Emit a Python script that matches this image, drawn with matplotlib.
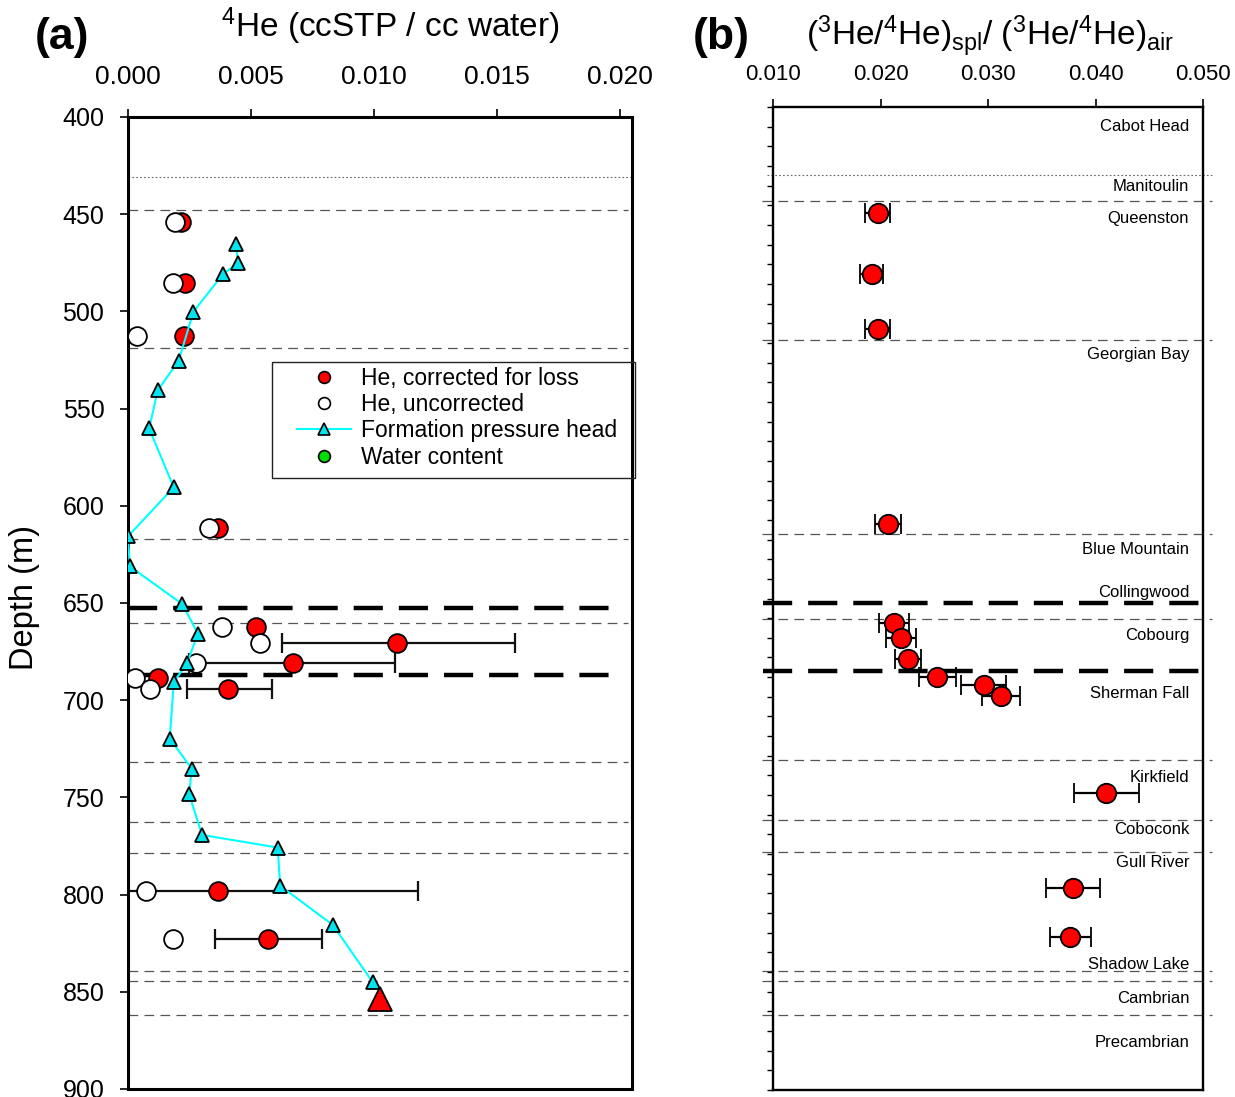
import matplotlib
matplotlib.use('Agg')
import matplotlib.pyplot as plt
import numpy as np
from matplotlib.patches import Rectangle
from matplotlib.lines import Line2D
from matplotlib.ticker import MultipleLocator, FormatStrFormatter, NullFormatter

plt.rcParams['font.family'] = ['Liberation Sans', 'DejaVu Sans']
plt.rcParams['mathtext.fontset'] = 'custom'
plt.rcParams['mathtext.rm'] = 'Liberation Sans'
plt.rcParams['mathtext.it'] = 'Liberation Sans:italic'
plt.rcParams['mathtext.bf'] = 'Liberation Sans:bold'
plt.rcParams['lines.scale_dashes'] = False

# ---------------- data ----------------
# Panel (a): 4He concentration
he_depth = [453.8, 485.5, 512.4, 611.4, 662.4, 670.5, 681.1, 688.8, 694.4, 798.1, 822.9]
he_corrected = [0.00215, 0.00230, 0.00228, 0.00368, 0.00519, 0.01096, 0.00673,
                0.00124, 0.00407, 0.00365, 0.00568]
he_uncorrected = [0.00193, 0.00185, 0.00036, 0.00330, 0.00381, 0.00536, 0.00276,
                  0.00029, 0.00089, 0.00073, 0.00183]
he_err_low = [np.nan, np.nan, np.nan, np.nan, np.nan, 0.00628, 0.00250,
              np.nan, 0.00240, -0.00050, 0.00352]
he_err_high = [np.nan, np.nan, np.nan, np.nan, np.nan, 0.01573, 0.01085,
               np.nan, 0.00586, 0.01178, 0.00791]

head_depth = [465.4, 475.2, 480.7, 500.2, 525.4, 540.6, 560.2, 590.5, 615.7, 631.1,
              650.6, 665.7, 681.1, 690.7, 719.8, 735.2, 748.4, 769.3, 775.8, 795.5,
              815.6, 845.2]
head_value = [0.00438, 0.00448, 0.00387, 0.00266, 0.00206, 0.00121, 0.00086, 0.00186,
              0.00000, 0.00007, 0.00221, 0.00284, 0.00240, 0.00186, 0.00170, 0.00259,
              0.00249, 0.00301, 0.00609, 0.00619, 0.00833, 0.00996]
head_extra_depth = [853.7]
head_extra_value = [0.01024]

# Panel (b): 3He/4He ratio normalised to air
ratio_depth = [453.8, 485.1, 513.1, 612.1, 662.6, 670.2, 680.9, 689.8, 694.0, 699.6,
               748.8, 797.4, 822.0]
ratio_value = [0.01973, 0.01917, 0.01973, 0.02072, 0.02128, 0.02190, 0.02253, 0.02529,
               0.02961, 0.03120, 0.04102, 0.03788, 0.03766]
ratio_err = [0.0012, 0.0011, 0.0012, 0.0012, 0.0014, 0.0014, 0.0012, 0.0017,
             0.0021, 0.0018, 0.0030, 0.0025, 0.0019]

# Formation boundaries (m)
thin_boundaries = [448.0, 518.6, 617.0, 660.2, 732.0, 762.6, 778.8, 839.3, 844.4, 861.8]
thick_boundaries = [652.5, 687.1]
dotted_boundary_a = 430.7
dotted_boundary_b = 434.7

formation_names = ['Cabot Head', 'Manitoulin', 'Queenston', 'Georgian Bay',
                   'Blue Mountain', 'Collingwood', 'Cobourg', 'Sherman Fall',
                   'Kirkfield', 'Coboconk', 'Gull River', 'Shadow Lake',
                   'Cambrian', 'Precambrian']
formation_label_depth = [409.7, 440.2, 456.5, 525.7, 625.3, 647.2, 668.6, 698.1,
                         741.3, 767.3, 784.1, 836.0, 853.3, 875.7]

a_xticks = [0.000, 0.005, 0.010, 0.015, 0.020]
b_xticks = [0.010, 0.020, 0.030, 0.040, 0.050]
depth_ticks = [400, 450, 500, 550, 600, 650, 700, 750, 800, 850, 900]

# ---------------- figure ----------------
W, H = 1235, 1097
fig = plt.figure(figsize=(W / 100, H / 100), dpi=100)


def fx(px):
    return px / W


def fy(py):
    return 1 - py / H


axa = fig.add_axes([fx(128), fy(1089), (632 - 128) / W, (1089 - 117) / H])
axb = fig.add_axes([fx(773), fy(1090), (1203 - 773) / W, (1090 - 107) / H])

thin_style = dict(color='#555555', lw=0.9, ls=(0, (7, 4.5)))
thick_style = dict(color='black', lw=3.2, ls=(0, (21, 11.5)))
dot_style = dict(color='#666666', lw=0.8, ls=(0, (1.2, 1.6)))

# ---- panel (a) ----
yt = axa.get_yaxis_transform()
axa.plot([0, 1.0], [dotted_boundary_a] * 2, transform=yt, zorder=1, **dot_style)
for d in thin_boundaries:
    axa.plot([0, 0.993], [d, d], transform=yt, zorder=1, **thin_style)
for d in thick_boundaries:
    axa.plot([0, 0.98], [d, d], transform=yt, zorder=1, **thick_style)

corr = np.array(he_corrected)
lo = np.array(he_err_low)
hi = np.array(he_err_high)
axa.errorbar(corr, he_depth, xerr=[corr - lo, hi - corr], fmt='none', ecolor='#111111',
             elinewidth=1.6, capsize=7, capthick=1.6, zorder=2)
axa.plot(he_corrected, he_depth, 'o', ms=13.5, mfc='#ff0000', mec='black', mew=1.3,
         ls='none', zorder=3)
axa.plot(he_uncorrected, he_depth, 'o', ms=13.5, mfc='white', mec='black', mew=1.3,
         ls='none', zorder=4)
axa.plot(head_value, head_depth, '-^', color='#00ffff', lw=1.5, ms=10,
         mfc='#00e5ee', mec='black', mew=1.3, zorder=5)
axa.plot(head_extra_value, head_extra_depth, '^', ms=17, mfc='#ff0000', mec='black',
         mew=1.3, zorder=6)

axa.set_xlim(0, 0.0205)
axa.set_ylim(900, 400)
axa.xaxis.tick_top()
axa.set_xticks(a_xticks)
axa.xaxis.set_major_formatter(FormatStrFormatter('%.3f'))
axa.set_yticks(depth_ticks)
axa.tick_params(axis='x', direction='out', length=6, width=1.2, labelsize=19, pad=14.5)
axa.tick_params(axis='y', direction='out', length=6, width=1.2, labelsize=18, pad=11)
for s in axa.spines.values():
    s.set_linewidth(2.2)

# legend
handles = [
    Line2D([], [], marker='o', ls='none', ms=8.5, mfc='#ff0000', mec='black', mew=1.2),
    Line2D([], [], marker='o', ls='none', ms=8.5, mfc='white', mec='black', mew=1.2),
    Line2D([], [], marker='^', color='#00ffff', lw=1.5, ms=9, mfc='#00e5ee', mec='black', mew=1.2),
    Line2D([], [], marker='o', ls='none', ms=8.5, mfc='#00dd00', mec='black', mew=1.2),
]
labels = ['He, corrected for loss', 'He, uncorrected', 'Formation pressure head',
          'Water content']
fig.legend(handles, labels, loc='upper left', bbox_to_anchor=(fx(297), fy(367)),
           bbox_transform=fig.transFigure, frameon=False, fontsize=16.5,
           handlelength=2.35, handletextpad=0.45, labelspacing=0.14, borderpad=0,
           borderaxespad=0)
fig.patches.append(Rectangle((fx(272), fy(478)), (635 - 272) / W, (478 - 362) / H,
                             transform=fig.transFigure, fill=False, ec='#222222', lw=1.0))

# ---- panel (b) ----
ytb = axb.get_yaxis_transform()
axb.plot([-0.015, 1.023], [dotted_boundary_b] * 2, transform=ytb, clip_on=False,
         zorder=1, **dot_style)
for d in thin_boundaries:
    axb.plot([-0.026, 1.021], [d, d], transform=ytb, clip_on=False, zorder=1, **thin_style)
for d in thick_boundaries:
    axb.plot([-0.024, 1.008], [d, d], transform=ytb, clip_on=False, zorder=1, **thick_style)

axb.errorbar(ratio_value, ratio_depth, xerr=ratio_err, fmt='o', ms=14, mfc='#ff0000',
             mec='black', mew=1.3, ecolor='black', elinewidth=1.6, capsize=7,
             capthick=1.6, zorder=3)

for name, d in zip(formation_names, formation_label_depth):
    axb.text(0.968, d, name, transform=ytb, ha='right', va='center', fontsize=12)

axb.set_xlim(0.010, 0.050)
axb.set_ylim(900, 400)
axb.xaxis.tick_top()
axb.set_xticks(b_xticks)
axb.xaxis.set_major_formatter(FormatStrFormatter('%.3f'))
axb.yaxis.set_major_locator(MultipleLocator(10))
axb.yaxis.set_major_formatter(NullFormatter())
axb.tick_params(axis='x', direction='out', length=6, width=1.2, labelsize=16, pad=10)
axb.tick_params(axis='y', direction='out', length=4.5, width=1.0)
for s in axb.spines.values():
    s.set_linewidth(1.7)

# ---- titles and labels ----
fig.text(fx(390), fy(26), r'$^{4}$He (ccSTP / cc water)', ha='center', va='center',
         fontsize=24)
fig.text(fx(990), fy(36), r'($^{3}$He/$^{4}$He)$_{\mathrm{spl}}$/ ($^{3}$He/$^{4}$He)$_{\mathrm{air}}$',
         ha='center', va='center', fontsize=24)
fig.text(fx(62), fy(37), '(a)', ha='center', va='center', fontsize=32, fontweight='bold')
fig.text(fx(721), fy(37), '(b)', ha='center', va='center', fontsize=32, fontweight='bold')
fig.text(fx(25), fy(598), 'Depth (m)', ha='center', va='center', rotation=90,
         fontsize=23.5)

fig.savefig('out.png', dpi=100)
